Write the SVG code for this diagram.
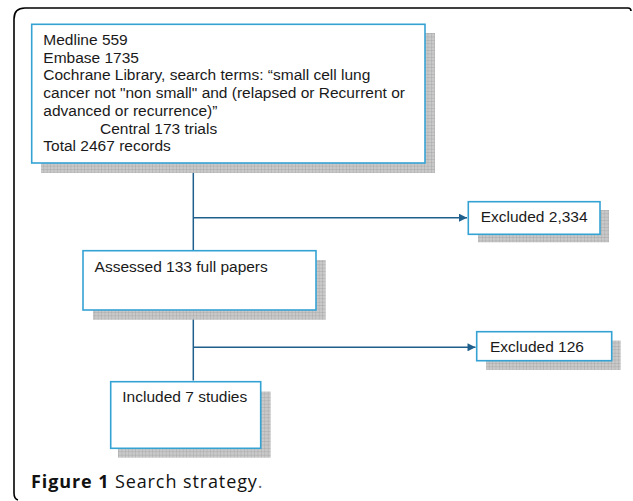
<svg xmlns="http://www.w3.org/2000/svg" width="633" height="501" viewBox="0 0 633 501">
<defs>
<pattern id="grid" width="3.4" height="3.4" patternUnits="userSpaceOnUse">
<rect width="3.4" height="3.4" fill="#c9c9c9"/>
<path d="M3.4,0 V3.4 M0,3.4 H3.4" stroke="#9c9c9c" stroke-width="0.7" fill="none"/>
</pattern>
<marker id="arr" viewBox="0 0 10 10" refX="10" refY="5" markerWidth="9" markerHeight="8" markerUnits="userSpaceOnUse" orient="auto">
<path d="M0,0 L10,5 L0,10 Z" fill="#1e5f8c"/>
</marker>
<style>
.shadow{fill:url(#grid);stroke:none}
.box{fill:#ffffff;stroke:#35a2d4;stroke-width:1.6}
.t{font-family:"Liberation Sans",Arial,sans-serif;font-size:15.5px;fill:#1a1a1a}
.conn{fill:none;stroke:#1e5f8c;stroke-width:1.5}
.cap{font-family:"Open Sans","Noto Sans",sans-serif;font-size:18px;letter-spacing:0.9px;fill:#111}
</style>
</defs>
<rect width="633" height="501" fill="#ffffff"/>
<path d="M631,11 Q631,8 628,8 L25,8 Q14,8 14,19 L14,493 Q14,499 18,500" fill="none" stroke="#000" stroke-width="1.6"/>

<g id="connectors">
<path class="conn" d="M193.3,173 V250"/>
<path class="conn" d="M193.3,217.7 H467" marker-end="url(#arr)"/>
<path class="conn" d="M193.3,310 V380.5"/>
<path class="conn" d="M193.3,347.3 H475.5" marker-end="url(#arr)"/>
</g>

<g id="search">
<rect class="shadow" x="41" y="33" width="394" height="140"/>
<rect class="box" x="31.7" y="24.3" width="393.3" height="138.7"/>
<text class="t" x="43.3" y="45">Medline 559</text>
<text class="t" x="43.3" y="62.7">Embase 1735</text>
<text class="t" x="43.3" y="80.4">Cochrane Library, search terms: “small cell lung</text>
<text class="t" x="43.3" y="98.1">cancer not "non small" and (relapsed or Recurrent or</text>
<text class="t" x="43.3" y="115.8">advanced or recurrence)”</text>
<text class="t" x="100" y="133.5">Central 173 trials</text>
<text class="t" x="43.3" y="151.2">Total 2467 records</text>
</g>

<g id="excluded1">
<rect class="shadow" x="478" y="210" width="131" height="32.3"/>
<rect class="box" x="468.3" y="201.7" width="131.7" height="32.6"/>
<text class="t" x="480.7" y="222.3">Excluded 2,334</text>
</g>

<g id="assessed">
<rect class="shadow" x="93" y="260" width="232.7" height="59.7"/>
<rect class="box" x="83" y="250.7" width="233" height="59.3"/>
<text class="t" x="94.6" y="271.7">Assessed 133 full papers</text>
</g>

<g id="excluded2">
<rect class="shadow" x="486" y="340.5" width="134.7" height="29.5"/>
<rect class="box" x="476.7" y="331.7" width="135" height="29"/>
<text class="t" x="490" y="352.3">Excluded 126</text>
</g>

<g id="included">
<rect class="shadow" x="118" y="391.5" width="152.7" height="66.2"/>
<rect class="box" x="110.7" y="381.7" width="150" height="66.6"/>
<text class="t" x="122.3" y="402.3">Included 7 studies</text>
</g>

<text class="cap" x="31" y="488"><tspan font-weight="bold">Figure 1</tspan> Search strategy<tspan fill="#666">.</tspan></text>
</svg>
